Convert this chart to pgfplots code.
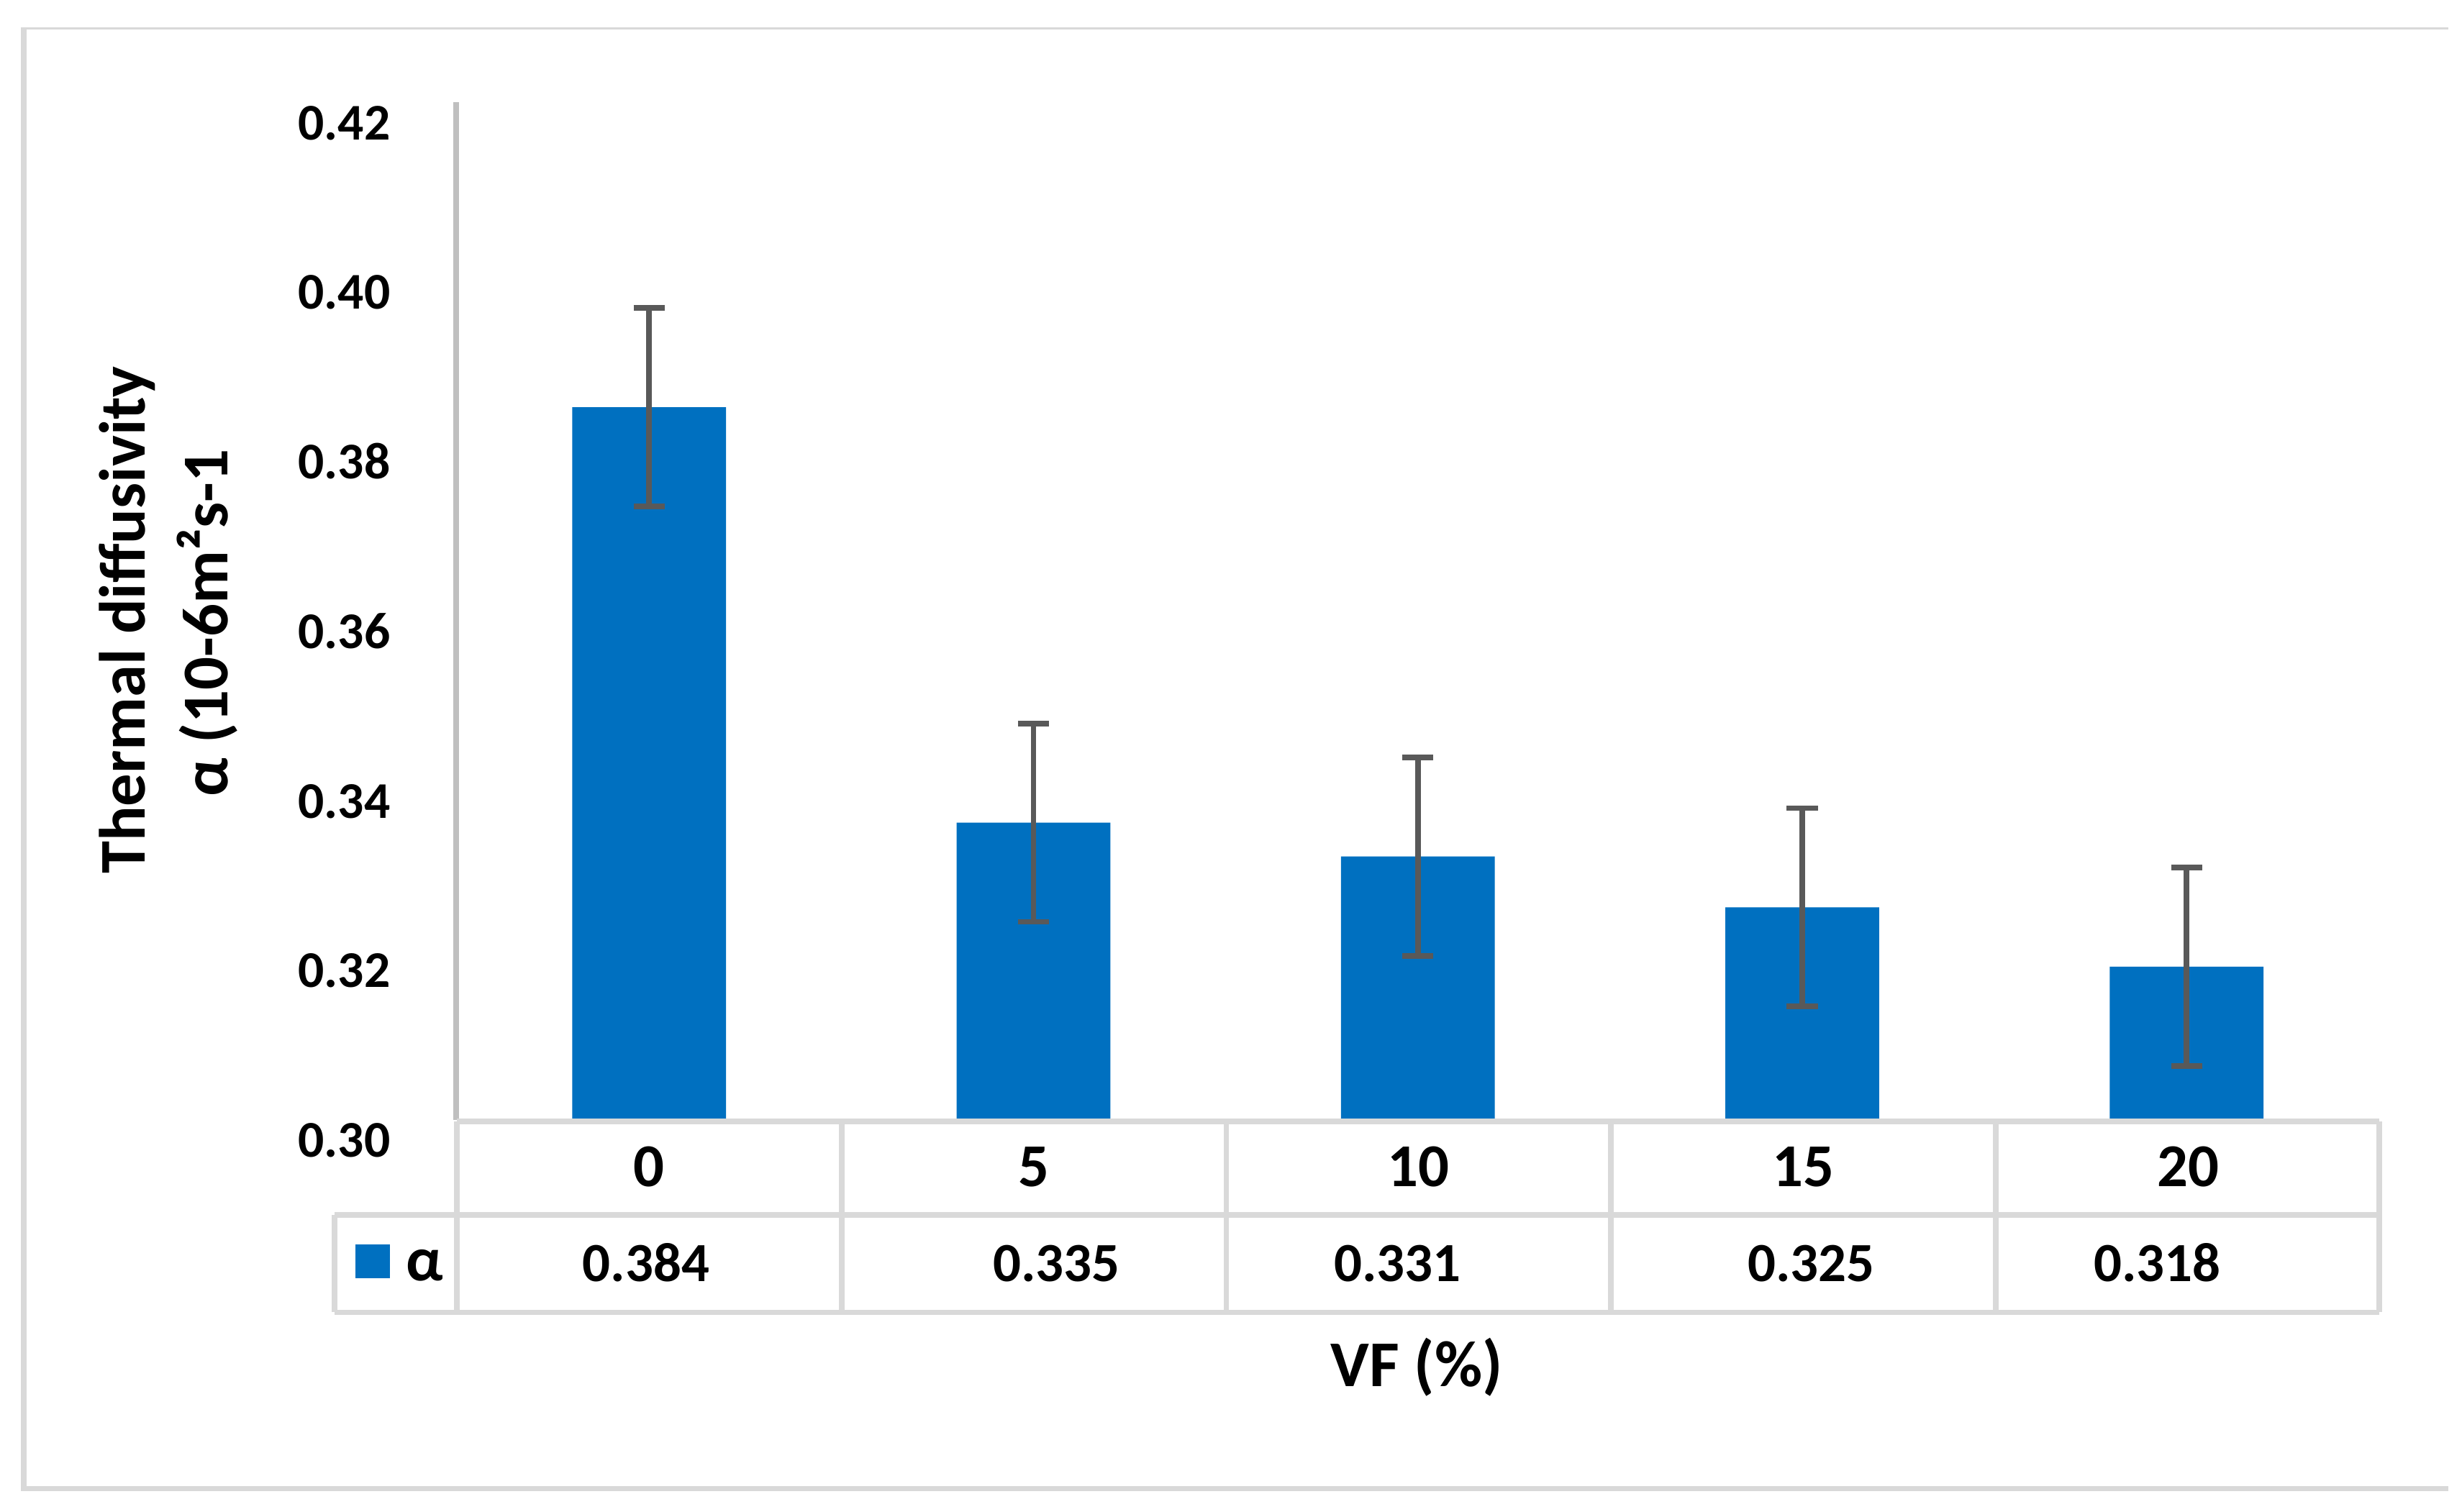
\documentclass[border=0pt]{standalone}
\usepackage{fontspec}
\setmainfont{Carlito}
\usepackage{pgfplots}
\pgfplotsset{compat=1.18}
\definecolor{barblue}{HTML}{0070C0}
\definecolor{errgray}{HTML}{595959}
\definecolor{axgray}{HTML}{BFBFBF}
\definecolor{tabgray}{HTML}{D9D9D9}
\begin{document}
\begin{tikzpicture}
\begin{axis}[
  at={(72.75pt,-178.25pt)}, anchor=south west,
  width=306pt, height=162pt, scale only axis,
  xmin=-0.5, xmax=4.5, ymin=0.30, ymax=0.42,
  ytick={0.30,0.32,0.34,0.36,0.38,0.40,0.42},
  xtick=\empty,
  axis line style={draw=none},
  major tick length=0pt,
  yticklabel style={/pgf/number format/fixed, /pgf/number format/fixed zerofill,
    /pgf/number format/precision=2, /pgf/number format/assume math mode=true,
    anchor=base east, inner sep=0pt, xshift=-10.4pt, yshift=-6pt,
    font=\fontsize{8.2}{9}\selectfont\bfseries},
]
\addplot[ybar, bar width=24.5pt, fill=barblue, draw=none,
  error bars/.cd, y dir=both, y explicit,
  error bar style={line width=0.9pt, errgray},
  error mark options={line width=0.9pt, errgray, mark size=2.47pt, rotate=90}]
  coordinates {
  (0,0.384) +- (0,0.0117)
  (1,0.335) +- (0,0.0117)
  (2,0.331) +- (0,0.0117)
  (3,0.325) +- (0,0.0117)
  (4,0.318) +- (0,0.0117)
  };
\end{axis}
\begin{scope}[x=0.25pt, y=-0.25pt]
  \path (0,0) rectangle (1568,963);
  % outer border
  \draw[tabgray, line width=0.31pt] (13.3,18.2) -- (1559.5,18.2);
  \draw[tabgray, line width=0.88pt] (15,18.2) -- (15,948.2) -- (1559.5,948.2);
  % y axis line
  \draw[axgray, line width=0.9pt] (290.5,65) -- (290.5,713.5);
  % data table
  \begin{scope}[tabgray, line width=0.88pt]
    \draw (291,714.3) -- (1515.3,714.3);
    \draw (213,774) -- (1515.3,774);
    \draw (213,836) -- (1515.3,836);
    \foreach \xx in {291,536,781,1026,1271,1515.3} {\draw (\xx,714.3) -- (\xx,836);}
    \draw (213,774) -- (213,836);
  \end{scope}
  \begin{scope}[every node/.style={inner sep=0pt, anchor=base}]
    \foreach \xx/\lab in {413.5/0, 658.5/5, 903.5/10, 1148.5/15, 1393.5/20}
      {\node[font=\fontsize{9.7}{11}\selectfont\bfseries] at (\xx,755.8) {\lab};}
    \foreach \xx/\lab in {411.4/0.384, 672.8/0.335, 890/0.331, 1153.5/0.325, 1374/0.318}
      {\node[font=\fontsize{8.8}{10}\selectfont\bfseries] at (\xx,816.5) {\lab};}
    \fill[barblue] (226.4,792.8) rectangle (248.3,814.2);
    \node[font=\fontsize{10}{11}\selectfont\bfseries, anchor=base west] at (258,815.8) {α};
    \node[font=\fontsize{10.4}{12}\selectfont\bfseries] at (902.3,883) {VF (\%)};
    \node[font=\fontsize{10.4}{12}\selectfont\bfseries, rotate=90] at (92.4,395) {Thermal diffusivity};
    \node[font=\fontsize{10.4}{12}\selectfont\bfseries, rotate=90] at (145,397) {α (10-6m²s-1};
  \end{scope}
\end{scope}
\end{tikzpicture}
\end{document}
